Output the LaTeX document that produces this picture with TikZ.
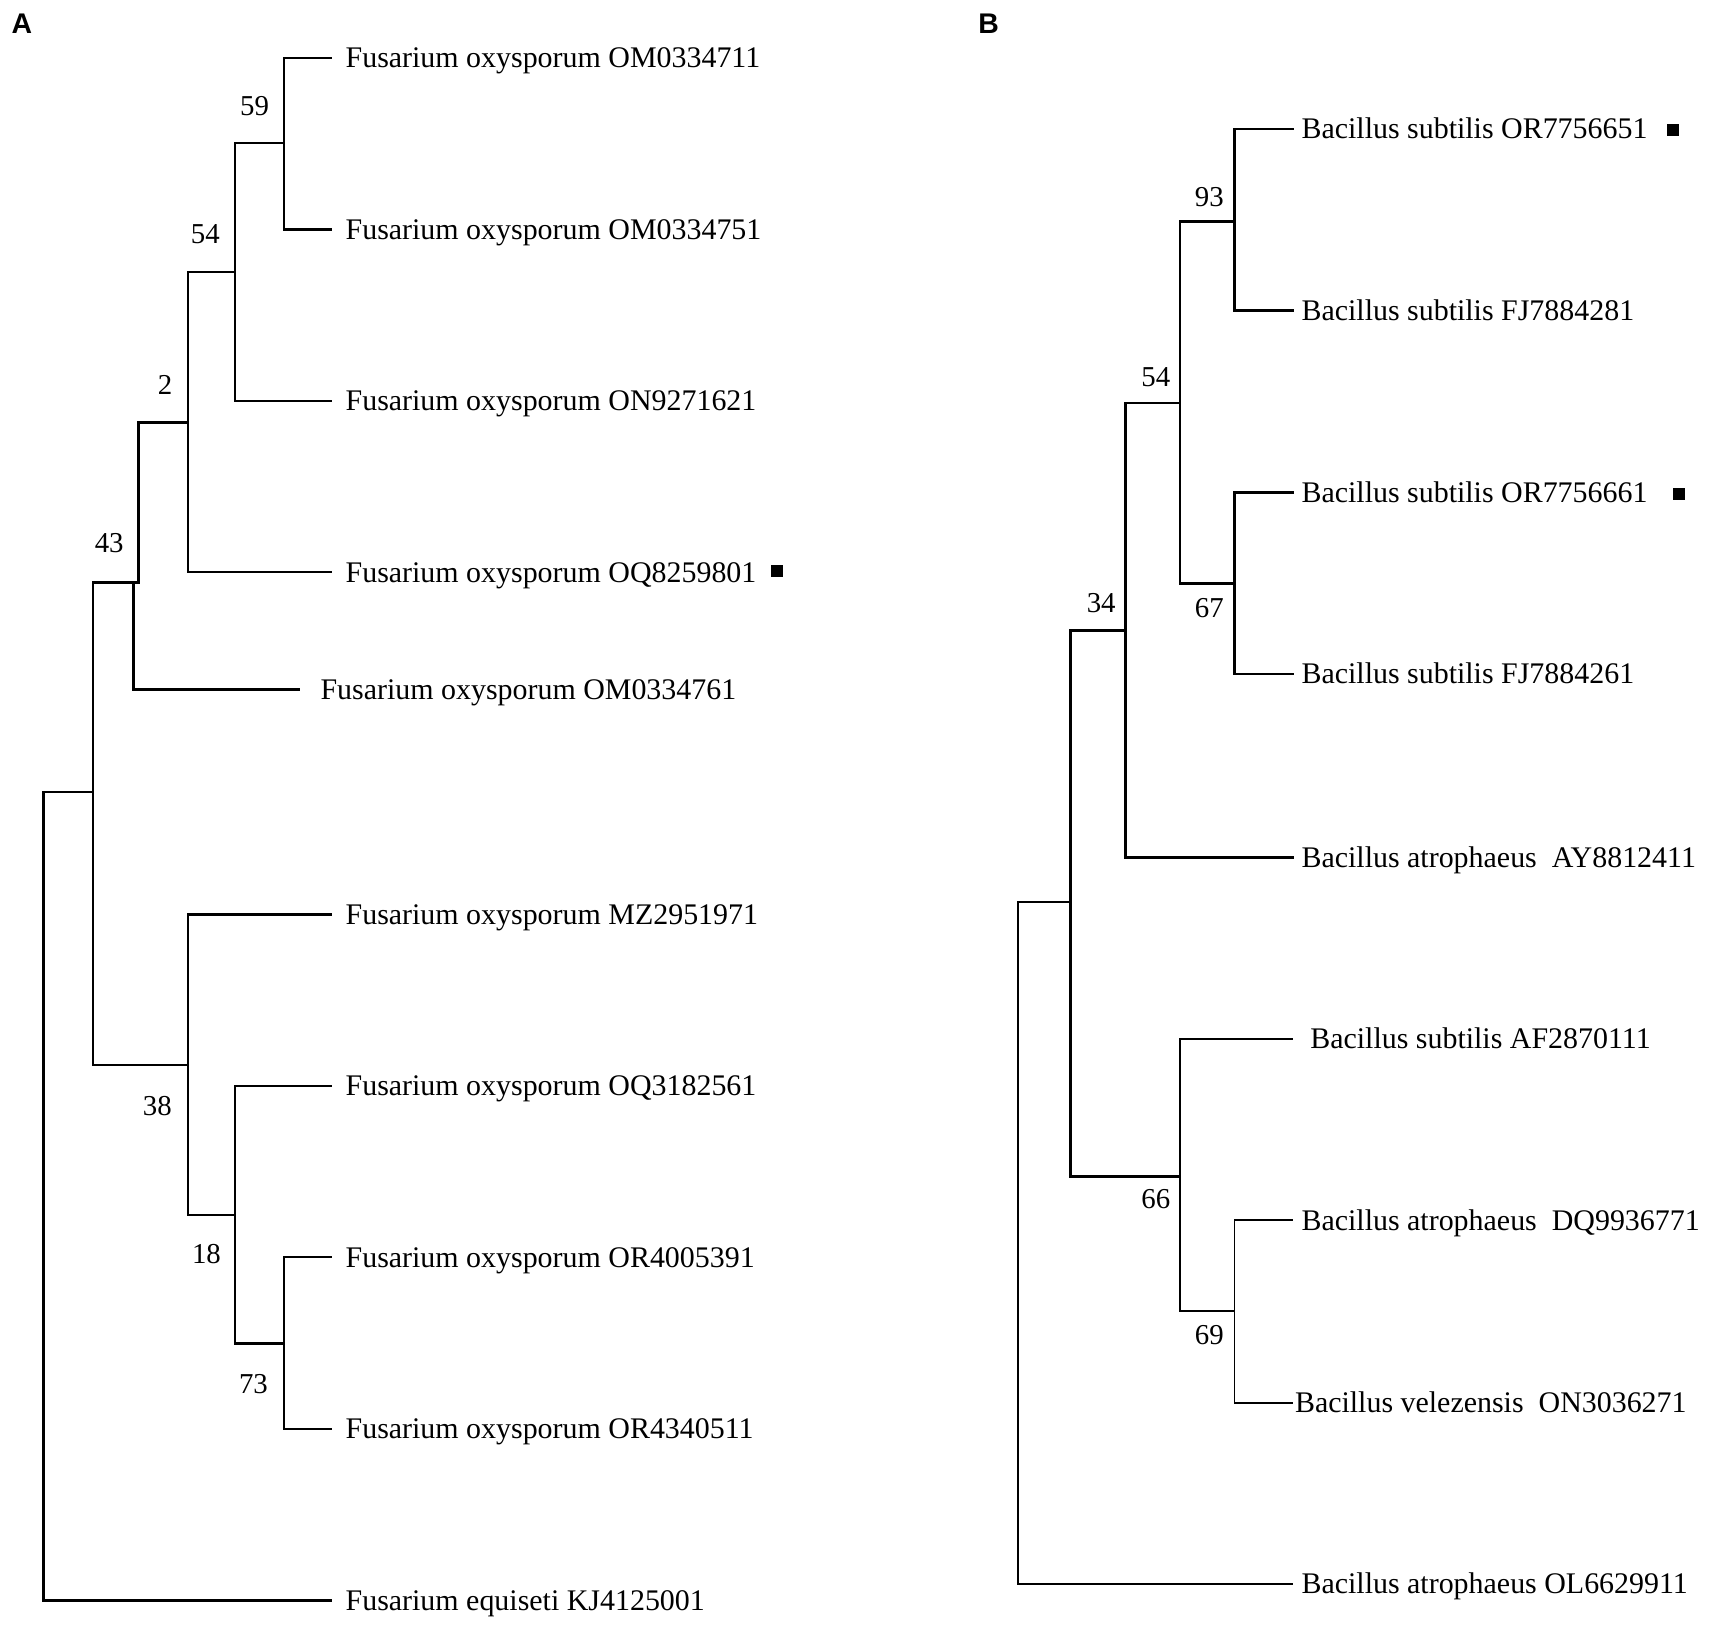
\documentclass[tikz,border=0pt]{standalone}
\usepackage{fontspec}
\setmainfont{Liberation Serif}
\newfontfamily\panelfont{Liberation Sans}
\begin{document}
\begin{tikzpicture}[x=0.5pt,y=-0.5pt,
  br/.style={line width=1.2pt,line cap=rect},
  thinbr/.style={line width=0.9pt,line cap=rect},
  leaf/.style={anchor=west,inner ysep=0pt,inner xsep=6.5pt,text height=9pt,text depth=0pt,font=\fontsize{13.7}{16}\selectfont},
  bsup/.style={inner sep=0pt,font=\fontsize{13.2}{15}\selectfont},
  panel/.style={inner sep=0pt,font=\panelfont\bfseries\fontsize{13}{15}\selectfont},
  sq/.style={fill=black,minimum size=5.5pt,inner sep=0pt}]
\useasboundingbox (0,0) rectangle (1568,1487);

% ---------- Panel A ----------
\node[panel] (pA) at (20,22) {A};
\coordinate (rA) at (40,1095);
\coordinate (a1) at (85,725);
\coordinate (a43) at (127,533);
\coordinate (a43b) at (122,533);
\coordinate (a2) at (172,387);
\coordinate (a54) at (215,249);
\coordinate (a59) at (260,131);
\coordinate (a38) at (172,975);
\coordinate (a18) at (215,1112);
\coordinate (a73) at (260,1230);

\node[leaf] (LA1) at (303,53) {Fusarium oxysporum OM0334711};
\node[leaf] (LA2) at (303,210) {Fusarium oxysporum OM0334751};
\node[leaf] (LA3) at (303,367) {Fusarium oxysporum ON9271621};
\node[leaf] (LA4) at (303,524) {Fusarium oxysporum OQ8259801};
\node[leaf,inner xsep=10pt] (LA5) at (273,631) {Fusarium oxysporum OM0334761};
\node[leaf] (LA6) at (303,837) {Fusarium oxysporum MZ2951971};
\node[leaf] (LA7) at (303,994) {Fusarium oxysporum OQ3182561};
\node[leaf] (LA8) at (303,1151) {Fusarium oxysporum OR4005391};
\node[leaf] (LA9) at (303,1308) {Fusarium oxysporum OR4340511};
\node[leaf] (LA10) at (303,1465) {Fusarium equiseti KJ4125001};
\node[sq] (sqA) at (711,523) {};

\draw[br] (rA) |- (a1);
\draw[br] (rA) |- (LA10);
\draw[br] (a1) |- (a43);
\draw[br] (a1) |- (a38);
\draw[br] (a43) |- (a2);
\draw[br] (a43b) |- (LA5);
\draw[br] (a2) |- (a54);
\draw[thinbr] (a2) |- (LA4);
\draw[br] (a54) |- (a59);
\draw[br] (a54) |- (LA3);
\draw[br] (a59) |- (LA1);
\draw[br] (a59) |- (LA2);
\draw[br] (a38) |- (LA6);
\draw[br] (a38) |- (a18);
\draw[br] (a18) |- (LA7);
\draw[br] (a18) |- (a73);
\draw[thinbr] (a73) |- (LA8);
\draw[br] (a73) |- (LA9);

\node[bsup] (sA59) at (233,97) {59};
\node[bsup] (sA54) at (188,214) {54};
\node[bsup] (sA2) at (151,352) {2};
\node[bsup] (sA43) at (100,497) {43};
\node[bsup] (sA38) at (144,1012) {38};
\node[bsup] (sA18) at (189,1148) {18};
\node[bsup] (sA73) at (232,1267) {73};

% ---------- Panel B ----------
\node[panel] (pB) at (905,22) {B};
\coordinate (rB) at (932,1138);
\coordinate (b1) at (980,826);
\coordinate (b34) at (1030,577);
\coordinate (b54) at (1080,369);
\coordinate (b93) at (1130,203);
\coordinate (b67) at (1130,534);
\coordinate (b66) at (1080,1077);
\coordinate (b69) at (1130,1200);

\node[leaf,inner xsep=4pt] (LB1) at (1183,118) {Bacillus subtilis OR7756651};
\node[leaf,inner xsep=4pt] (LB2) at (1183,284) {Bacillus subtilis FJ7884281};
\node[leaf,inner xsep=4pt] (LB3) at (1183,451) {Bacillus subtilis OR7756661};
\node[leaf,inner xsep=4pt] (LB4) at (1183,617) {Bacillus subtilis FJ7884261};
\node[leaf,inner xsep=4pt] (LB5) at (1183,785) {Bacillus atrophaeus\ \ AY8812411};
\node[leaf,inner xsep=8pt] (LB6) at (1183,951) {Bacillus subtilis AF2870111};
\node[leaf,inner xsep=4pt] (LB7) at (1183,1117) {Bacillus atrophaeus\ \ DQ9936771};
\node[leaf,inner xsep=1pt] (LB8) at (1183,1284) {Bacillus velezensis\ \ ON3036271};
\node[leaf,inner xsep=4pt] (LB9) at (1183,1450) {Bacillus atrophaeus OL6629911};
\node[sq] (sqB1) at (1531,119) {};
\node[sq] (sqB2) at (1537,452) {};

\draw[thinbr] (rB) |- (b1);
\draw[thinbr] (rB) |- (LB9);
\draw[br] (b1) |- (b34);
\draw[br] (b1) |- (b66);
\draw[br] (b34) |- (b54);
\draw[br] (b34) |- (LB5);
\draw[br] (b54) |- (b93);
\draw[br] (b54) |- (b67);
\draw[br] (b93) |- (LB1);
\draw[br] (b93) |- (LB2);
\draw[br] (b67) |- (LB3);
\draw[br] (b67) |- (LB4);
\draw[thinbr] (b66) |- (LB6);
\draw[thinbr] (b66) |- (b69);
\draw[thinbr] (b69) |- (LB7);
\draw[thinbr] (b69) |- (LB8);

\node[bsup] (sB93) at (1107,180) {93};
\node[bsup] (sB54) at (1058,345) {54};
\node[bsup] (sB34) at (1008,552) {34};
\node[bsup] (sB67) at (1107,557) {67};
\node[bsup] (sB66) at (1058,1098) {66};
\node[bsup] (sB69) at (1107,1222) {69};
\end{tikzpicture}
\end{document}
